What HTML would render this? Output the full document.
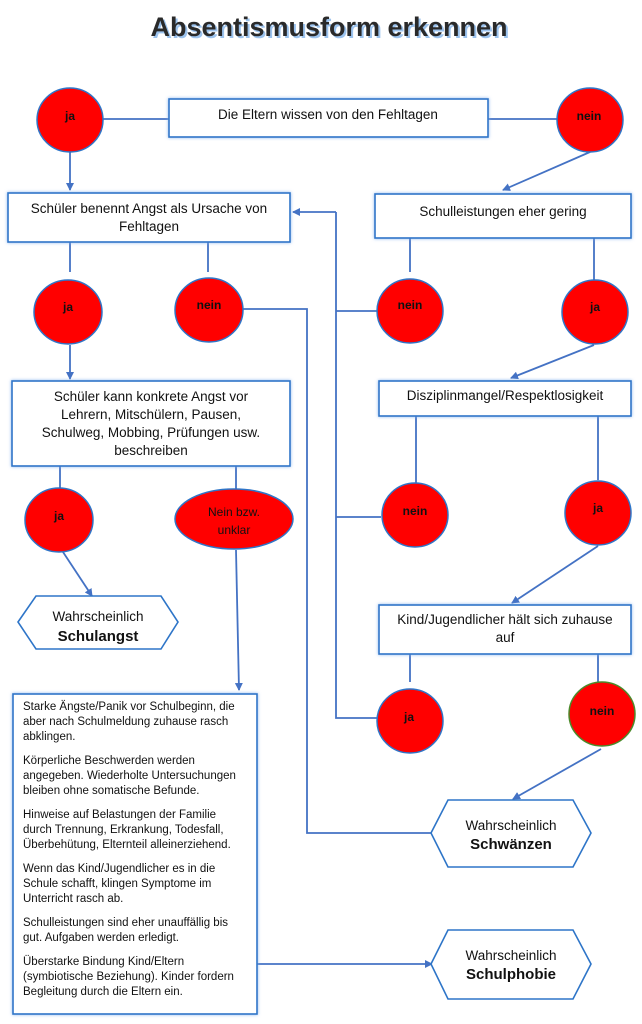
<!DOCTYPE html>
<html><head><meta charset="utf-8"><style>
html,body{margin:0;padding:0;background:#fff;width:642px;height:1024px;overflow:hidden}
svg{display:block}
text{font-family:"Liberation Sans",sans-serif;fill:#111}
.b{fill:#fff;stroke:#2e75c8;stroke-width:1.6;filter:url(#g)}
.c{fill:#ff0000;stroke:#2e75c8;stroke-width:1.5}
.l{stroke:#4472c4;stroke-width:1.8;fill:none}
.a{stroke:#4472c4;stroke-width:1.8;fill:none;marker-end:url(#ar)}
.ct{font-size:12px;font-weight:bold;text-anchor:middle}
.bt{font-size:13.5px;text-anchor:middle}
.s{font-size:11.5px}
</style></head><body>
<svg width="642" height="1024" viewBox="0 0 642 1024">
<defs>
<filter id="g" x="-10%" y="-10%" width="120%" height="120%"><feDropShadow dx="0" dy="0" stdDeviation="1.6" flood-color="#7fb0ef" flood-opacity="0.9"/></filter>
<marker id="ar" markerWidth="8" markerHeight="8" refX="7" refY="4" orient="auto" markerUnits="userSpaceOnUse"><path d="M0,0 L8,4 L0,8 z" fill="#4472c4"/></marker>
</defs>
<text x="331" y="38" text-anchor="middle" style="font-size:27px;font-weight:bold;fill:#9cc3ee">Absentismusform erkennen</text>
<text x="329" y="36" text-anchor="middle" style="font-size:27px;font-weight:bold;fill:#2a2a2a">Absentismusform erkennen</text>

<path class="l" d="M103,119 H169 M488,119 H557"/>
<path class="a" d="M70,152 V190"/>
<path class="a" d="M590,152 L503,190"/>
<path class="l" d="M70,242 V272 M208,242 V272 M410,238 V272 M594,238 V280"/>
<path class="a" d="M70,345 V379"/>
<path class="l" d="M242,309 H307 V833 H432"/>
<path class="l" d="M377,311 H336 M336,212 V718 H377 M336,517 H381"/>
<path class="a" d="M336,212 H293"/>
<path class="a" d="M594,345 L511,378"/>
<path class="l" d="M416,415 V484 M598,415 V480"/>
<path class="a" d="M598,546 L512,603"/>
<path class="l" d="M410,654 V682 M598,654 V683"/>
<path class="a" d="M601,749 L513,799"/>
<path class="l" d="M60,466 V488 M236,466 V491"/>
<path class="a" d="M63,552 L92,596"/>
<path class="a" d="M236,550 L239,690"/>
<path class="a" d="M257,964 H432"/>

<rect class="b" x="169" y="99" width="319" height="38"/>
<text class="bt" x="328" y="119">Die Eltern wissen von den Fehltagen</text>
<rect class="b" x="8" y="193" width="282" height="49"/>
<text class="bt" x="149" y="213">Schüler benennt Angst als Ursache von</text>
<text class="bt" x="149" y="231">Fehltagen</text>
<rect class="b" x="375" y="194" width="256" height="44"/>
<text class="bt" x="503" y="216">Schulleistungen eher gering</text>
<rect class="b" x="12" y="381" width="278" height="85"/>
<text class="bt" x="151" y="401">Schüler kann konkrete Angst vor</text>
<text class="bt" x="151" y="419">Lehrern, Mitschülern, Pausen,</text>
<text class="bt" x="151" y="437">Schulweg, Mobbing, Prüfungen usw.</text>
<text class="bt" x="151" y="455">beschreiben</text>
<rect class="b" x="379" y="381" width="252" height="35"/>
<text class="bt" x="505" y="400">Disziplinmangel/Respektlosigkeit</text>
<rect class="b" x="379" y="605" width="252" height="49"/>
<text class="bt" x="505" y="624">Kind/Jugendlicher hält sich zuhause</text>
<text class="bt" x="505" y="642">auf</text>
<rect class="b" x="13" y="694" width="244" height="320"/>
<g class="s">
<text x="23" y="710">Starke Ängste/Panik vor Schulbeginn, die</text>
<text x="23" y="725">aber nach Schulmeldung zuhause rasch</text>
<text x="23" y="740">abklingen.</text>
<text x="23" y="764">Körperliche Beschwerden werden</text>
<text x="23" y="779">angegeben. Wiederholte Untersuchungen</text>
<text x="23" y="794">bleiben ohne somatische Befunde.</text>
<text x="23" y="818">Hinweise auf Belastungen der Familie</text>
<text x="23" y="833">durch Trennung, Erkrankung, Todesfall,</text>
<text x="23" y="848">Überbehütung, Elternteil alleinerziehend.</text>
<text x="23" y="872">Wenn das Kind/Jugendlicher es in die</text>
<text x="23" y="887">Schule schafft, klingen Symptome im</text>
<text x="23" y="902">Unterricht rasch ab.</text>
<text x="23" y="926">Schulleistungen sind eher unauffällig bis</text>
<text x="23" y="941">gut. Aufgaben werden erledigt.</text>
<text x="23" y="965">Überstarke Bindung Kind/Eltern</text>
<text x="23" y="980">(symbiotische Beziehung). Kinder fordern</text>
<text x="23" y="995">Begleitung durch die Eltern ein.</text>
</g>

<path d="M18,622 L36,596 H161 L178,622 L161,649 H36 Z" fill="#fff" stroke="#2e75c8" stroke-width="1.6"/>
<text class="bt" x="98" y="621">Wahrscheinlich</text>
<text class="bt" x="98" y="641" style="font-weight:bold;font-size:15px">Schulangst</text>
<path d="M431,833 L448,800 H573 L591,833 L573,867 H448 Z" fill="#fff" stroke="#2e75c8" stroke-width="1.6"/>
<text class="bt" x="511" y="830">Wahrscheinlich</text>
<text class="bt" x="511" y="849" style="font-weight:bold;font-size:15px">Schwänzen</text>
<path d="M431,964 L448,930 H573 L591,964 L573,999 H448 Z" fill="#fff" stroke="#2e75c8" stroke-width="1.6"/>
<text class="bt" x="511" y="960">Wahrscheinlich</text>
<text class="bt" x="511" y="979" style="font-weight:bold;font-size:15px">Schulphobie</text>

<ellipse class="c" cx="70" cy="120" rx="33" ry="32"/><text class="ct" x="70" y="120">ja</text>
<ellipse class="c" cx="590" cy="120" rx="33" ry="32"/><text class="ct" x="589" y="120">nein</text>
<ellipse class="c" cx="68" cy="312" rx="34" ry="32"/><text class="ct" x="68" y="311">ja</text>
<ellipse class="c" cx="209" cy="310" rx="34" ry="32"/><text class="ct" x="209" y="309">nein</text>
<ellipse class="c" cx="410" cy="311" rx="33" ry="32"/><text class="ct" x="410" y="309">nein</text>
<ellipse class="c" cx="595" cy="312" rx="33" ry="32"/><text class="ct" x="595" y="311">ja</text>
<ellipse class="c" cx="59" cy="520" rx="34" ry="32"/><text class="ct" x="59" y="520">ja</text>
<ellipse class="c" cx="234" cy="519" rx="59" ry="30"/>
<text x="234" y="516" text-anchor="middle" style="font-size:12px;fill:#111">Nein bzw.</text>
<text x="234" y="534" text-anchor="middle" style="font-size:12px;fill:#111">unklar</text>
<ellipse class="c" cx="415" cy="515" rx="33" ry="32"/><text class="ct" x="415" y="515">nein</text>
<ellipse class="c" cx="598" cy="513" rx="33" ry="32"/><text class="ct" x="598" y="512">ja</text>
<ellipse class="c" cx="410" cy="721" rx="33" ry="32"/><text class="ct" x="409" y="721">ja</text>
<ellipse class="c" cx="602" cy="714" rx="33" ry="32" style="stroke:#4a8a2a"/><text class="ct" x="602" y="715">nein</text>
</svg>
</body></html>
